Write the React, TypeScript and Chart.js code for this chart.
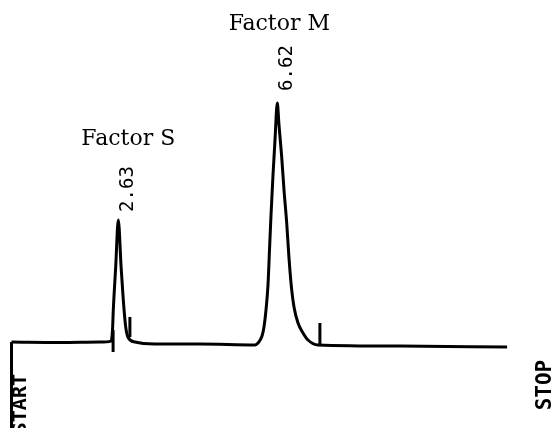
import React, { useEffect, useRef } from "react";
import { Chart, registerables } from "chart.js";

Chart.register(...registerables);

// Detector trace: time (min) and signal (relative units)
const traceTime = [
  0, 1.21, 2.21, 2.49, 2.525, 2.545, 2.605, 2.67, 2.74, 2.795, 2.855, 2.91, 3.09, 3.59,
  4.71, 6.09, 6.1625, 6.2625, 6.3125, 6.3625, 6.4125, 6.45, 6.4875, 6.5375, 6.5875, 6.645,
  6.6875, 6.755, 6.8125, 6.88, 6.9375, 7.005, 7.0625, 7.1625, 7.2875, 7.4125, 7.6625,
  9.71, 12.39,
];
const traceSignal = [
  0.4, 0.2, 0.4, 0.8, 5.4, 13.75, 31.7, 51.25, 31.7, 17.9, 6.7, 2.5, 0.4, -0.4,
  -0.4, -0.8, 0, 2.9, 6.7, 13.75, 24.2, 38.75, 53.3, 70, 84.6, 100,
  90.8, 77.5, 63.75, 50, 35.4, 22.1, 15, 8.3, 4.2, 1.25, -0.8,
  -1.25, -1.7,
];

// Vertical event marks: start line, injection mark, integration ticks
const markTime = [0, 2.54, 2.96, 7.71];
const markTop = [0.4, 5.4, 10.8, 8.3];
const markBottom = [-35.4, -3.75, 2.5, -0.8];

// Peaks
const peakTime = [2.67, 6.645];
const peakSignal = [51.25, 100];
const peakNames = ["Factor S", "Factor M"];
const retentionLabels = ["2.63", "6.62"];

const endLabels = ["START", "STOP"];

export default function App() {
  const canvasRef = useRef<HTMLCanvasElement | null>(null);

  useEffect(() => {
    const canvas = canvasRef.current;
    if (!canvas) return;

    const traceData = traceTime.map((t, i) => ({ x: t, y: traceSignal[i] }));
    const markDatasets = markTime.map((t, i) => ({
      data: [
        { x: t, y: markTop[i] },
        { x: t, y: markBottom[i] },
      ],
      showLine: true,
      borderColor: "#000",
      borderWidth: 3,
      pointRadius: 0,
      tension: 0,
    }));

    const labelPlugin = {
      id: "chromLabels",
      afterDatasetsDraw(chart: any) {
        const ctx = chart.ctx as CanvasRenderingContext2D;
        const xs = chart.scales.x;
        const ys = chart.scales.y;
        ctx.save();
        ctx.fillStyle = "#000";
        const nameOffsets = [
          [10, -75],
          [2, -73],
        ];
        const rtOffsets = [
          [10, -31],
          [10, -35],
        ];
        peakTime.forEach((t, i) => {
          const px = xs.getPixelForValue(t);
          const py = ys.getPixelForValue(peakSignal[i]);
          ctx.font = "22px 'DejaVu Serif'";
          ctx.textAlign = "center";
          ctx.textBaseline = "alphabetic";
          ctx.fillText(peakNames[i], px + nameOffsets[i][0], py + nameOffsets[i][1]);

          ctx.save();
          ctx.translate(px + rtOffsets[i][0], py + rtOffsets[i][1]);
          ctx.rotate(-Math.PI / 2);
          ctx.font = "19px 'DejaVu Sans Mono'";
          ctx.textAlign = "center";
          ctx.textBaseline = "middle";
          ctx.fillText(retentionLabels[i], 0, 0);
          ctx.restore();
        });

        // START label beside the start line
        const sx = xs.getPixelForValue(traceTime[0]);
        const sy = ys.getPixelForValue(traceSignal[0]);
        ctx.save();
        ctx.translate(sx + 9, sy + 32);
        ctx.rotate(-Math.PI / 2);
        ctx.font = "bold 20px 'DejaVu Sans Mono'";
        ctx.textAlign = "right";
        ctx.textBaseline = "middle";
        ctx.fillText(endLabels[0], 0, 0);
        ctx.restore();

        // STOP label past the end of the trace
        const last = traceTime.length - 1;
        const ex = xs.getPixelForValue(traceTime[last]);
        const ey = ys.getPixelForValue(traceSignal[last]);
        ctx.save();
        ctx.translate(ex + 38, ey + 38);
        ctx.rotate(-Math.PI / 2);
        ctx.font = "bold 21px 'DejaVu Sans Mono'";
        ctx.textAlign = "center";
        ctx.textBaseline = "middle";
        ctx.fillText(endLabels[1], 0, 0);
        ctx.restore();

        ctx.restore();
      },
    };

    const chart = new Chart(canvas, {
      type: "scatter",
      data: {
        datasets: [
          {
            data: traceData,
            showLine: true,
            borderColor: "#000",
            borderWidth: 3,
            pointRadius: 0,
            cubicInterpolationMode: "monotone",
          } as any,
          ...(markDatasets as any[]),
        ],
      },
      options: {
        animation: false,
        responsive: false,
        devicePixelRatio: 1,
        layout: { padding: 0 },
        plugins: {
          legend: { display: false },
          tooltip: { enabled: false },
        },
        scales: {
          x: { type: "linear", min: -0.2875, max: 13.7125, display: false },
          y: { type: "linear", min: -35.417, max: 142.917, display: false },
        },
      },
      plugins: [labelPlugin],
    });

    return () => chart.destroy();
  }, []);

  return (
    <div style={{ position: "fixed", left: 0, top: 0, width: 560, height: 428, background: "#fff" }}>
      <canvas ref={canvasRef} width={560} height={428} />
    </div>
  );
}
